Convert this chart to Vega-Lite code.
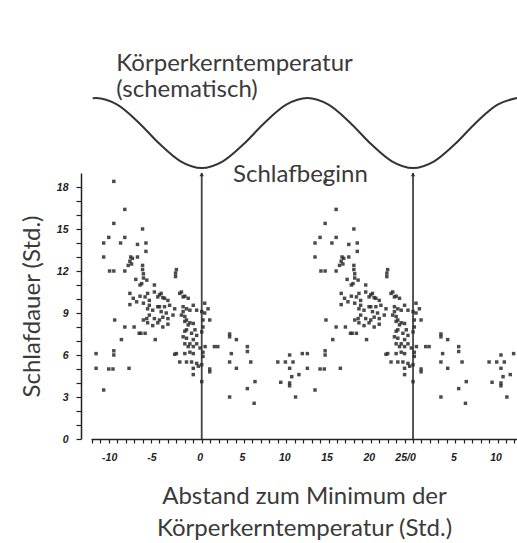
{
  "$schema": "https://vega.github.io/schema/vega-lite/v6.json",
  "width": 426,
  "height": 266,
  "autosize": {"type": "none"},
  "padding": {"left": 91, "top": 173, "right": 0, "bottom": 104},
  "background": "white",
  "config": {
    "view": {"stroke": null},
    "axis": {
      "grid": false,
      "domainColor": "#222",
      "domainWidth": 1.5,
      "tickColor": "#222",
      "tickWidth": 1.2,
      "labelColor": "#222",
      "labelFont": "Liberation Sans",
      "labelFontStyle": "italic",
      "labelFontWeight": "bold",
      "labelFontSize": 10.5,
      "titleFont": "Lato",
      "titleFontWeight": "normal",
      "titleColor": "#3a3a3a",
      "titleFontSize": 24
    }
  },
  "datasets": {
    "temp": [
      {"h": -12.9, "c": 0.995}, {"h": -12.5, "c": 1}, {"h": -10, "c": 0.809}, {"h": -7.5, "c": 0.309},
      {"h": -5, "c": -0.309}, {"h": -2.5, "c": -0.809}, {"h": 0, "c": -1}, {"h": 2.5, "c": -0.809},
      {"h": 5, "c": -0.309}, {"h": 7.5, "c": 0.309}, {"h": 10, "c": 0.809}, {"h": 12.5, "c": 1},
      {"h": 15, "c": 0.809}, {"h": 17.5, "c": 0.309}, {"h": 20, "c": -0.309}, {"h": 22.5, "c": -0.809},
      {"h": 25, "c": -1}, {"h": 27.5, "c": -0.809}, {"h": 30, "c": -0.309}, {"h": 32.5, "c": 0.309},
      {"h": 35, "c": 0.809}, {"h": 37.3, "c": 0.999}
    ],
    "tempNote": [{"h": -10.1, "c": 1.78, "t": "Körperkerntemperatur\n(schematisch)"}],
    "sleepNote": [{"h": 3.7, "d": 18.35, "t": "Schlafbeginn"}],
    "onset": [{"h": 0, "d": 0, "d2": 19}, {"h": 25, "d": 0, "d2": 19}],
    "arrows": [{"h": 0, "d": 18.9}, {"h": 25, "d": 18.9}],
    "sleep": [
      {"h":-10.4,"d":18.4},{"h":-9.1,"d":16.4},{"h":-10.4,"d":15.4},{"h":-7.0,"d":15.0},{"h":-11.0,"d":14.4},{"h":-9.1,"d":14.4},{"h":-11.6,"d":14.0},{"h":-9.6,"d":14.0},{"h":-7.6,"d":13.9},{"h":-6.6,"d":14.0},{"h":-6.6,"d":13.4},{"h":-11.6,"d":13.0},{"h":-8.4,"d":13.0},{"h":-7.6,"d":13.0},
      {"h":-8.2,"d":12.9},{"h":-8.5,"d":12.7},{"h":-8.3,"d":12.5},{"h":-8.7,"d":12.4},{"h":-7.0,"d":12.4},{"h":-7.0,"d":12.1},{"h":-10.9,"d":12.0},{"h":-10.4,"d":12.0},{"h":-9.1,"d":12.0},{"h":-3.0,"d":12.1},{"h":-3.1,"d":11.85},{"h":-3.1,"d":11.6},
      {"h":-6.9,"d":11.8},{"h":-6.9,"d":11.5},{"h":-6.5,"d":11.35},{"h":-7.1,"d":11.1},{"h":-7.8,"d":11.4},{"h":-7.3,"d":11.0},{"h":-5.6,"d":11.0},
      {"h":-8.5,"d":10.4},{"h":-8.1,"d":10.05},{"h":-7.7,"d":9.8},{"h":-7.3,"d":10.2},{"h":-6.7,"d":10.15},{"h":-6.9,"d":9.7},{"h":-6.2,"d":9.9},{"h":-6.4,"d":10.4},{"h":-5.6,"d":10.5},{"h":-5.2,"d":10.15},{"h":-4.8,"d":10.4},{"h":-4.4,"d":10.05},{"h":-4.0,"d":9.9},{"h":-6.2,"d":9.55},{"h":-5.0,"d":9.45},{"h":-3.8,"d":9.55},{"h":-3.2,"d":9.3},{"h":-2.4,"d":10.5},{"h":-2.0,"d":10.2},{"h":-1.6,"d":10.05},{"h":-1.8,"d":9.3},{"h":-1.4,"d":9.2},{"h":-0.6,"d":9.2},{"h":0.0,"d":9.1},{"h":0.35,"d":9.0},{"h":-5.0,"d":10.3},{"h":-4.6,"d":10.1},{"h":-2.6,"d":10.4},{"h":-2.2,"d":10.15},
      {"h":-8.5,"d":9.6},{"h":-6.4,"d":9.3},{"h":-5.8,"d":9.2},{"h":-5.2,"d":9.45},{"h":-4.8,"d":9.1},{"h":-6.2,"d":8.85},{"h":-5.6,"d":8.6},{"h":-5.0,"d":8.5},{"h":-4.6,"d":8.7},{"h":-4.2,"d":9.0},{"h":-4.0,"d":8.6},{"h":-3.4,"d":8.85},{"h":-4.4,"d":9.45},{"h":-6.5,"d":8.6},{"h":-6.9,"d":8.5},{"h":-2.2,"d":9.45},{"h":-2.2,"d":9.1},{"h":-2.0,"d":8.75},{"h":-1.8,"d":8.5},{"h":-1.0,"d":9.55},{"h":-1.6,"d":8.15},{"h":-1.0,"d":8.25},{"h":0.35,"d":9.7},{"h":0.75,"d":9.3},{"h":0.95,"d":8.5},{"h":0.15,"d":8.5},{"h":-2.4,"d":8.85},
      {"h":-10.3,"d":8.5},{"h":-9.1,"d":8.0},{"h":-8.0,"d":8.0},{"h":-7.4,"d":7.55},{"h":-7.2,"d":7.55},{"h":-6.7,"d":7.55},{"h":-9.5,"d":7.1},{"h":-5.5,"d":7.1},{"h":-6.4,"d":8.3},{"h":-5.8,"d":8.1},{"h":-5.2,"d":8.3},{"h":-4.6,"d":8.0},{"h":-4.0,"d":8.2},
      {"h":-1.8,"d":7.8},{"h":-1.2,"d":7.55},{"h":-0.8,"d":7.8},{"h":-0.6,"d":7.4},{"h":-1.8,"d":7.2},{"h":-1.0,"d":7.1},{"h":-1.4,"d":6.8},{"h":-0.6,"d":6.8},{"h":-1.6,"d":6.6},{"h":-1.0,"d":6.6},{"h":-2.0,"d":7.7},{"h":0.15,"d":8.0},{"h":0.0,"d":7.65},{"h":-2.0,"d":6.8},{"h":-0.2,"d":6.5},{"h":-2.2,"d":7.3},{"h":-2.0,"d":8.4},{"h":-1.4,"d":8.3},
      {"h":-1.4,"d":6.2},{"h":-3.0,"d":6.1},{"h":-2.0,"d":6.1},{"h":-1.0,"d":6.1},{"h":0.15,"d":6.2},{"h":0.15,"d":5.9},{"h":-2.6,"d":5.5},{"h":-1.8,"d":5.5},{"h":-1.2,"d":5.5},{"h":-0.6,"d":5.4},{"h":-0.4,"d":5.2},{"h":0.0,"d":5.3},{"h":-1.0,"d":5.05},{"h":-1.0,"d":4.6},{"h":0.95,"d":5.0},{"h":0.95,"d":4.8},{"h":0.0,"d":4.1},{"h":1.5,"d":6.6},{"h":1.9,"d":6.6},{"h":0.4,"d":6.6},
      {"h":3.3,"d":7.5},{"h":3.3,"d":7.3},{"h":4.1,"d":7.1},{"h":3.5,"d":6.1},{"h":5.4,"d":6.6},{"h":5.4,"d":6.25},{"h":3.3,"d":5.5},{"h":4.1,"d":5.05},{"h":5.8,"d":5.5},{"h":6.3,"d":4.1},{"h":5.4,"d":3.6},{"h":3.3,"d":3.0},{"h":6.2,"d":2.55},
      {"h":9.0,"d":5.5},{"h":9.9,"d":5.5},{"h":10.4,"d":6.0},{"h":10.8,"d":5.5},{"h":10.4,"d":5.05},{"h":11.9,"d":6.1},{"h":11.5,"d":4.6},{"h":10.65,"d":4.45},{"h":10.4,"d":4.0},{"h":10.4,"d":3.8},{"h":9.35,"d":4.05},{"h":11.1,"d":3.0},
      {"h":-12.5,"d":6.1},{"h":-10.4,"d":6.3},{"h":-10.4,"d":6.0},{"h":-12.5,"d":5.05},{"h":-11.0,"d":5.0},{"h":-10.5,"d":5.0},{"h":-8.6,"d":5.05},{"h":-11.6,"d":3.5},{"h":-3.2,"d":6.05},

      {"h":14.6,"d":18.4},{"h":15.9,"d":16.4},{"h":14.6,"d":15.4},{"h":18.0,"d":15.0},{"h":14.0,"d":14.4},{"h":15.9,"d":14.4},{"h":13.4,"d":14.0},{"h":15.4,"d":14.0},{"h":17.4,"d":13.9},{"h":18.4,"d":14.0},{"h":18.4,"d":13.4},{"h":13.4,"d":13.0},{"h":16.6,"d":13.0},{"h":17.4,"d":13.0},
      {"h":16.8,"d":12.9},{"h":16.5,"d":12.7},{"h":16.7,"d":12.5},{"h":16.3,"d":12.4},{"h":18.0,"d":12.4},{"h":18.0,"d":12.1},{"h":14.1,"d":12.0},{"h":14.6,"d":12.0},{"h":15.9,"d":12.0},{"h":22.0,"d":12.1},{"h":21.9,"d":11.85},{"h":21.9,"d":11.6},
      {"h":18.1,"d":11.8},{"h":18.1,"d":11.5},{"h":18.5,"d":11.35},{"h":17.9,"d":11.1},{"h":17.2,"d":11.4},{"h":17.7,"d":11.0},{"h":19.4,"d":11.0},
      {"h":16.5,"d":10.4},{"h":16.9,"d":10.05},{"h":17.3,"d":9.8},{"h":17.7,"d":10.2},{"h":18.3,"d":10.15},{"h":18.1,"d":9.7},{"h":18.8,"d":9.9},{"h":18.6,"d":10.4},{"h":19.4,"d":10.5},{"h":19.8,"d":10.15},{"h":20.2,"d":10.4},{"h":20.6,"d":10.05},{"h":21.0,"d":9.9},{"h":18.8,"d":9.55},{"h":20.0,"d":9.45},{"h":21.2,"d":9.55},{"h":21.8,"d":9.3},{"h":22.6,"d":10.5},{"h":23.0,"d":10.2},{"h":23.4,"d":10.05},{"h":23.2,"d":9.3},{"h":23.6,"d":9.2},{"h":24.4,"d":9.2},{"h":25.0,"d":9.1},{"h":25.35,"d":9.0},{"h":20.0,"d":10.3},{"h":20.4,"d":10.1},{"h":22.4,"d":10.4},{"h":22.8,"d":10.15},
      {"h":16.5,"d":9.6},{"h":18.6,"d":9.3},{"h":19.2,"d":9.2},{"h":19.8,"d":9.45},{"h":20.2,"d":9.1},{"h":18.8,"d":8.85},{"h":19.4,"d":8.6},{"h":20.0,"d":8.5},{"h":20.4,"d":8.7},{"h":20.8,"d":9.0},{"h":21.0,"d":8.6},{"h":21.6,"d":8.85},{"h":20.6,"d":9.45},{"h":18.5,"d":8.6},{"h":18.1,"d":8.5},{"h":22.8,"d":9.45},{"h":22.8,"d":9.1},{"h":23.0,"d":8.75},{"h":23.2,"d":8.5},{"h":24.0,"d":9.55},{"h":23.4,"d":8.15},{"h":24.0,"d":8.25},{"h":25.35,"d":9.7},{"h":25.75,"d":9.3},{"h":25.95,"d":8.5},{"h":25.15,"d":8.5},{"h":22.6,"d":8.85},
      {"h":14.7,"d":8.5},{"h":15.9,"d":8.0},{"h":17.0,"d":8.0},{"h":17.6,"d":7.55},{"h":17.8,"d":7.55},{"h":18.3,"d":7.55},{"h":15.5,"d":7.1},{"h":19.5,"d":7.1},{"h":18.6,"d":8.3},{"h":19.2,"d":8.1},{"h":19.8,"d":8.3},{"h":20.4,"d":8.0},{"h":21.0,"d":8.2},
      {"h":23.2,"d":7.8},{"h":23.8,"d":7.55},{"h":24.2,"d":7.8},{"h":24.4,"d":7.4},{"h":23.2,"d":7.2},{"h":24.0,"d":7.1},{"h":23.6,"d":6.8},{"h":24.4,"d":6.8},{"h":23.4,"d":6.6},{"h":24.0,"d":6.6},{"h":23.0,"d":7.7},{"h":25.15,"d":8.0},{"h":25.0,"d":7.65},{"h":23.0,"d":6.8},{"h":24.8,"d":6.5},{"h":22.8,"d":7.3},{"h":23.0,"d":8.4},{"h":23.6,"d":8.3},
      {"h":23.6,"d":6.2},{"h":22.0,"d":6.1},{"h":23.0,"d":6.1},{"h":24.0,"d":6.1},{"h":25.15,"d":6.2},{"h":25.15,"d":5.9},{"h":22.4,"d":5.5},{"h":23.2,"d":5.5},{"h":23.8,"d":5.5},{"h":24.4,"d":5.4},{"h":24.6,"d":5.2},{"h":25.0,"d":5.3},{"h":24.0,"d":5.05},{"h":24.0,"d":4.6},{"h":25.95,"d":5.0},{"h":25.95,"d":4.8},{"h":25.0,"d":4.1},{"h":26.5,"d":6.6},{"h":26.9,"d":6.6},{"h":25.4,"d":6.6},
      {"h":28.3,"d":7.5},{"h":28.3,"d":7.3},{"h":29.1,"d":7.1},{"h":28.5,"d":6.1},{"h":30.4,"d":6.6},{"h":30.4,"d":6.25},{"h":28.3,"d":5.5},{"h":29.1,"d":5.05},{"h":30.8,"d":5.5},{"h":31.3,"d":4.1},{"h":30.4,"d":3.6},{"h":28.3,"d":3.0},{"h":31.2,"d":2.55},
      {"h":34.0,"d":5.5},{"h":34.9,"d":5.5},{"h":35.4,"d":6.0},{"h":35.8,"d":5.5},{"h":35.4,"d":5.05},{"h":36.9,"d":6.1},{"h":36.5,"d":4.6},{"h":35.65,"d":4.45},{"h":35.4,"d":4.0},{"h":35.4,"d":3.8},{"h":34.35,"d":4.05},{"h":36.1,"d":3.0},
      {"h":12.5,"d":6.1},{"h":14.6,"d":6.3},{"h":14.6,"d":6.0},{"h":12.5,"d":5.05},{"h":14.0,"d":5.0},{"h":14.5,"d":5.0},{"h":16.4,"d":5.05},{"h":13.4,"d":3.5},{"h":21.8,"d":6.05}
    ]
  },
  "encoding": {
    "x": {
      "field": "h",
      "type": "quantitative",
      "scale": {"domain": [-13.1, 37.3], "nice": false, "zero": false},
      "axis": {
        "values": [-13,-12,-11,-10,-9,-8,-7,-6,-5,-4,-3,-2,-1,0,1,2,3,4,5,6,7,8,9,10,11,12,13,14,15,16,17,18,19,20,21,22,23,24,25,26,27,28,29,30,31,32,33,34,35,36,37],
        "labelExpr": "datum.value % 5 != 0 ? '' : (datum.value == 25 ? '25/0' : (datum.value > 25 ? (datum.value - 25) + '' : datum.value + ''))",
        "labelOverlap": false,
        "labelFlush": false,
        "labelBound": false,
        "labelOffset": {"condition": {"test": "datum.value < 0 || datum.value == 25", "value": -8}, "value": -2},
        "tickSize": 4,
        "labelPadding": 9,
        "title": ["Abstand zum Minimum der", "Körperkerntemperatur (Std.)"],
        "titlePadding": 22,
        "titleLineHeight": 32
      }
    }
  },
  "layer": [
    {
      "encoding": {
        "y": {"field": "c", "type": "quantitative", "scale": {"domain": [-8.743, -1.143], "nice": false, "zero": false}, "axis": null}
      },
      "layer": [
        {
          "data": {"name": "temp"},
          "mark": {"type": "line", "interpolate": "monotone", "color": "#333", "strokeWidth": 2}
        },
        {
          "data": {"name": "tempNote"},
          "mark": {"type": "text", "align": "left", "baseline": "alphabetic", "font": "Lato", "fontSize": 24, "color": "#3a3a3a", "lineBreak": "\n", "lineHeight": 26.5},
          "encoding": {"text": {"field": "t", "type": "nominal"}}
        }
      ]
    },
    {
      "encoding": {
        "y": {
          "field": "d",
          "type": "quantitative",
          "scale": {"domain": [0, 19], "nice": false, "zero": false},
          "axis": {
            "values": [0,1,2,3,4,5,6,7,8,9,10,11,12,13,14,15,16,17,18],
            "labelExpr": "datum.value % 3 == 0 ? datum.value + '' : ''",
            "labelOverlap": false,
            "labelFlush": false,
            "offset": 10,
            "tickSize": 5,
            "labelPadding": 8,
            "title": "Schlafdauer (Std.)",
            "titlePadding": 12
          }
        }
      },
      "layer": [
        {
          "data": {"name": "onset"},
          "mark": {"type": "rule", "color": "#444", "strokeWidth": 1.8},
          "encoding": {"y2": {"field": "d2"}}
        },
        {
          "data": {"name": "arrows"},
          "mark": {"type": "point", "shape": "triangle-up", "filled": true, "size": 20, "color": "#333", "opacity": 1}
        },
        {
          "data": {"name": "sleep"},
          "mark": {"type": "square", "size": 12, "color": "#2b2b2b", "opacity": 0.85}
        },
        {
          "data": {"name": "sleepNote"},
          "mark": {"type": "text", "align": "left", "baseline": "alphabetic", "font": "Lato", "fontSize": 24, "color": "#3a3a3a"},
          "encoding": {"text": {"field": "t", "type": "nominal"}}
        }
      ]
    }
  ],
  "resolve": {"scale": {"y": "independent"}}
}
